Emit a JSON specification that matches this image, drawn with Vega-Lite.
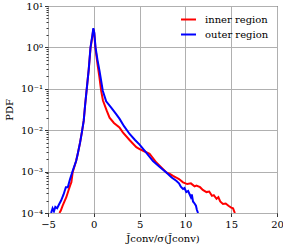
{
  "$schema": "https://vega.github.io/schema/vega-lite/v6.json",
  "autosize": {"type": "none"},
  "padding": {"left": 48, "top": 6, "right": 6, "bottom": 38},
  "width": 229,
  "height": 207,
  "config": {
    "font": "DejaVu Serif",
    "view": {"stroke": "black", "strokeWidth": 1},
    "axis": {
      "labelFont": "DejaVu Serif", "labelFontSize": 10, "labelColor": "black",
      "titleFont": "DejaVu Serif", "titleFontSize": 10, "titleFontWeight": "normal", "titleColor": "black",
      "gridColor": "#b0b0b0", "gridWidth": 1,
      "domain": false, "tickColor": "black", "tickSize": 3.5, "tickWidth": 0.8,
      "labelFlush": false, "labelOverlap": false
    },
    "legend": {
      "labelFont": "DejaVu Serif", "labelFontSize": 10, "labelColor": "black"
    }
  },
  "data": {"values": [
    {"x": -3.75, "pdf": 0.0001, "region": "inner region"},
    {"x": -3.6, "pdf": 0.000115, "region": "inner region"},
    {"x": -3.4, "pdf": 0.00015, "region": "inner region"},
    {"x": -3.2, "pdf": 0.00019, "region": "inner region"},
    {"x": -3.0, "pdf": 0.00024, "region": "inner region"},
    {"x": -2.8, "pdf": 0.00033, "region": "inner region"},
    {"x": -2.6, "pdf": 0.00045, "region": "inner region"},
    {"x": -2.45, "pdf": 0.00055, "region": "inner region"},
    {"x": -2.3, "pdf": 0.00098, "region": "inner region"},
    {"x": -1.93, "pdf": 0.0018, "region": "inner region"},
    {"x": -1.75, "pdf": 0.0027, "region": "inner region"},
    {"x": -1.5, "pdf": 0.005, "region": "inner region"},
    {"x": -1.3, "pdf": 0.009, "region": "inner region"},
    {"x": -1.1, "pdf": 0.017, "region": "inner region"},
    {"x": -0.95, "pdf": 0.04, "region": "inner region"},
    {"x": -0.77, "pdf": 0.1, "region": "inner region"},
    {"x": -0.55, "pdf": 0.3, "region": "inner region"},
    {"x": -0.36, "pdf": 0.95, "region": "inner region"},
    {"x": -0.15, "pdf": 1.9, "region": "inner region"},
    {"x": -0.05, "pdf": 2.75, "region": "inner region"},
    {"x": 0.05, "pdf": 2.2, "region": "inner region"},
    {"x": 0.17, "pdf": 1.0, "region": "inner region"},
    {"x": 0.4, "pdf": 0.4, "region": "inner region"},
    {"x": 0.6, "pdf": 0.2, "region": "inner region"},
    {"x": 0.8, "pdf": 0.09, "region": "inner region"},
    {"x": 1.0, "pdf": 0.052, "region": "inner region"},
    {"x": 1.4, "pdf": 0.03, "region": "inner region"},
    {"x": 1.72, "pdf": 0.02, "region": "inner region"},
    {"x": 2.2, "pdf": 0.015, "region": "inner region"},
    {"x": 2.8, "pdf": 0.0117, "region": "inner region"},
    {"x": 3.17, "pdf": 0.0089, "region": "inner region"},
    {"x": 3.9, "pdf": 0.0058, "region": "inner region"},
    {"x": 4.64, "pdf": 0.0039, "region": "inner region"},
    {"x": 5.0, "pdf": 0.0035, "region": "inner region"},
    {"x": 5.5, "pdf": 0.0031, "region": "inner region"},
    {"x": 6.09, "pdf": 0.0027, "region": "inner region"},
    {"x": 6.83, "pdf": 0.00166, "region": "inner region"},
    {"x": 7.4, "pdf": 0.00125, "region": "inner region"},
    {"x": 7.92, "pdf": 0.00095, "region": "inner region"},
    {"x": 8.3, "pdf": 0.00088, "region": "inner region"},
    {"x": 8.65, "pdf": 0.00079, "region": "inner region"},
    {"x": 9.0, "pdf": 0.00072, "region": "inner region"},
    {"x": 9.3, "pdf": 0.00066, "region": "inner region"},
    {"x": 9.74, "pdf": 0.00055, "region": "inner region"},
    {"x": 10.2, "pdf": 0.0005, "region": "inner region"},
    {"x": 10.6, "pdf": 0.00052, "region": "inner region"},
    {"x": 11.0, "pdf": 0.00044, "region": "inner region"},
    {"x": 11.2, "pdf": 0.00046, "region": "inner region"},
    {"x": 11.6, "pdf": 0.00042, "region": "inner region"},
    {"x": 11.9, "pdf": 0.00036, "region": "inner region"},
    {"x": 12.3, "pdf": 0.00032, "region": "inner region"},
    {"x": 12.6, "pdf": 0.00033, "region": "inner region"},
    {"x": 12.9, "pdf": 0.00026, "region": "inner region"},
    {"x": 13.1, "pdf": 0.00027, "region": "inner region"},
    {"x": 13.4, "pdf": 0.00022, "region": "inner region"},
    {"x": 13.6, "pdf": 0.00024, "region": "inner region"},
    {"x": 13.8, "pdf": 0.00019, "region": "inner region"},
    {"x": 14.1, "pdf": 0.000166, "region": "inner region"},
    {"x": 14.4, "pdf": 0.00017, "region": "inner region"},
    {"x": 14.7, "pdf": 0.00015, "region": "inner region"},
    {"x": 15.0, "pdf": 0.000135, "region": "inner region"},
    {"x": 15.2, "pdf": 0.00013, "region": "inner region"},
    {"x": 15.4, "pdf": 0.0001, "region": "inner region"},

    {"x": -4.66, "pdf": 0.0001, "region": "outer region"},
    {"x": -4.5, "pdf": 0.00013, "region": "outer region"},
    {"x": -4.35, "pdf": 0.00011, "region": "outer region"},
    {"x": -4.2, "pdf": 0.00014, "region": "outer region"},
    {"x": -4.0, "pdf": 0.00013, "region": "outer region"},
    {"x": -3.8, "pdf": 0.00016, "region": "outer region"},
    {"x": -3.57, "pdf": 0.0002, "region": "outer region"},
    {"x": -3.3, "pdf": 0.00028, "region": "outer region"},
    {"x": -3.05, "pdf": 0.00042, "region": "outer region"},
    {"x": -2.84, "pdf": 0.00042, "region": "outer region"},
    {"x": -2.6, "pdf": 0.00065, "region": "outer region"},
    {"x": -2.3, "pdf": 0.00105, "region": "outer region"},
    {"x": -1.93, "pdf": 0.0018, "region": "outer region"},
    {"x": -1.75, "pdf": 0.0027, "region": "outer region"},
    {"x": -1.5, "pdf": 0.005, "region": "outer region"},
    {"x": -1.3, "pdf": 0.009, "region": "outer region"},
    {"x": -1.1, "pdf": 0.017, "region": "outer region"},
    {"x": -0.95, "pdf": 0.04, "region": "outer region"},
    {"x": -0.77, "pdf": 0.1, "region": "outer region"},
    {"x": -0.55, "pdf": 0.3, "region": "outer region"},
    {"x": -0.36, "pdf": 1.0, "region": "outer region"},
    {"x": -0.15, "pdf": 2.0, "region": "outer region"},
    {"x": -0.05, "pdf": 2.9, "region": "outer region"},
    {"x": 0.05, "pdf": 2.3, "region": "outer region"},
    {"x": 0.19, "pdf": 1.0, "region": "outer region"},
    {"x": 0.4, "pdf": 0.5, "region": "outer region"},
    {"x": 0.62, "pdf": 0.275, "region": "outer region"},
    {"x": 0.98, "pdf": 0.09, "region": "outer region"},
    {"x": 1.35, "pdf": 0.05, "region": "outer region"},
    {"x": 1.9, "pdf": 0.035, "region": "outer region"},
    {"x": 2.4, "pdf": 0.025, "region": "outer region"},
    {"x": 2.8, "pdf": 0.019, "region": "outer region"},
    {"x": 3.3, "pdf": 0.0125, "region": "outer region"},
    {"x": 3.91, "pdf": 0.0081, "region": "outer region"},
    {"x": 4.5, "pdf": 0.0058, "region": "outer region"},
    {"x": 5.0, "pdf": 0.0045, "region": "outer region"},
    {"x": 5.7, "pdf": 0.0029, "region": "outer region"},
    {"x": 6.46, "pdf": 0.0018, "region": "outer region"},
    {"x": 7.2, "pdf": 0.0013, "region": "outer region"},
    {"x": 7.92, "pdf": 0.00095, "region": "outer region"},
    {"x": 8.5, "pdf": 0.00072, "region": "outer region"},
    {"x": 9.0, "pdf": 0.0006, "region": "outer region"},
    {"x": 9.3, "pdf": 0.00052, "region": "outer region"},
    {"x": 9.5, "pdf": 0.00043, "region": "outer region"},
    {"x": 9.74, "pdf": 0.00038, "region": "outer region"},
    {"x": 9.9, "pdf": 0.0004, "region": "outer region"},
    {"x": 10.1, "pdf": 0.00032, "region": "outer region"},
    {"x": 10.3, "pdf": 0.00034, "region": "outer region"},
    {"x": 10.47, "pdf": 0.00028, "region": "outer region"},
    {"x": 10.6, "pdf": 0.00024, "region": "outer region"},
    {"x": 10.7, "pdf": 0.00028, "region": "outer region"},
    {"x": 10.83, "pdf": 0.00019, "region": "outer region"},
    {"x": 11.0, "pdf": 0.00017, "region": "outer region"},
    {"x": 11.15, "pdf": 0.00015, "region": "outer region"},
    {"x": 11.25, "pdf": 0.00012, "region": "outer region"},
    {"x": 11.38, "pdf": 0.0001, "region": "outer region"}
  ]},
  "mark": {"type": "line", "strokeWidth": 2, "clip": true, "interpolate": "linear"},
  "encoding": {
    "x": {
      "field": "x", "type": "quantitative",
      "scale": {"domain": [-5, 20], "nice": false, "zero": false},
      "axis": {"values": [-5, 0, 5, 10, 15, 20], "title": "J̃conv/σ(J̃conv)", "titlePadding": 4, "labelPadding": 3}
    },
    "y": {
      "field": "pdf", "type": "quantitative",
      "scale": {"type": "log", "domain": [0.0001, 10], "nice": false},
      "axis": {
        "title": "PDF",
        "titlePadding": 6,
        "labelPadding": 2,
        "values": [0.0001, 0.0002, 0.0003, 0.0004, 0.0005, 0.0006, 0.0007, 0.0008, 0.0009,
                   0.001, 0.002, 0.003, 0.004, 0.005, 0.006, 0.007, 0.008, 0.009,
                   0.01, 0.02, 0.03, 0.04, 0.05, 0.06, 0.07, 0.08, 0.09,
                   0.1, 0.2, 0.3, 0.4, 0.5, 0.6, 0.7, 0.8, 0.9,
                   1, 2, 3, 4, 5, 6, 7, 8, 9, 10],
        "labelExpr": "abs(log(datum.value)/LN10 - round(log(datum.value)/LN10)) < 0.01 ? '10' + replace(replace(replace(replace(replace(replace(replace('' + round(log(datum.value)/LN10), '-', '⁻'), '0', '⁰'), '1', '¹'), '2', '²'), '3', '³'), '4', '⁴'), '5', '⁵') : ''",
        "tickSize": {"condition": {"test": "abs(log(datum.value)/LN10 - round(log(datum.value)/LN10)) < 0.01", "value": 3.5}, "value": 2},
        "gridOpacity": {"condition": {"test": "abs(log(datum.value)/LN10 - round(log(datum.value)/LN10)) < 0.01", "value": 1}, "value": 0}
      }
    },
    "color": {
      "field": "region", "type": "nominal",
      "scale": {"domain": ["inner region", "outer region"], "range": ["#ff0000", "#0000ff"]},
      "legend": {
        "title": null, "orient": "none", "legendX": 132, "legendY": 5,
        "symbolType": "stroke", "symbolSize": 225, "symbolStrokeWidth": 2,
        "labelOffset": 8, "rowPadding": 1, "padding": 0
      }
    }
  }
}
